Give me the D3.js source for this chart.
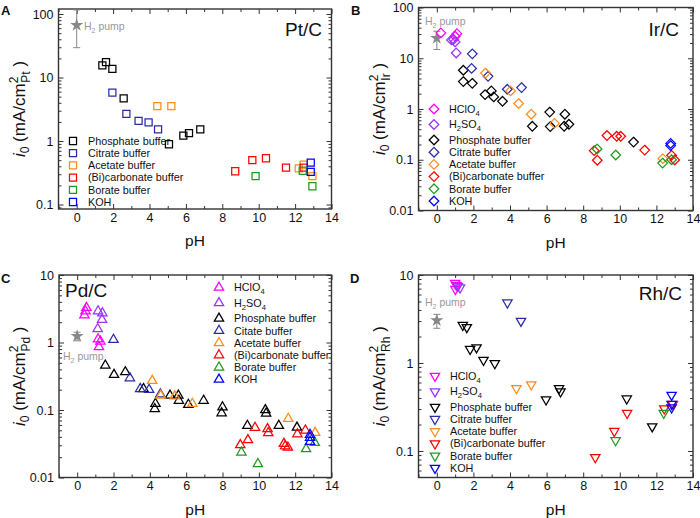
<!DOCTYPE html>
<html><head><meta charset="utf-8">
<script src="https://cdn.jsdelivr.net/npm/d3@7"></script>
<style>body{margin:0;background:#fff;}svg{display:block;font-family:"Liberation Sans",Arial,sans-serif;}</style>
</head><body><svg id="chart" width="700" height="518"></svg>
<script>
// ---------- data ----------
const xTicks = [0, 2, 4, 6, 8, 10, 12, 14];
const xTickLabels = ["0", "2", "4", "6", "8", "10", "12", "14"];
const xMinorTicks = [-1, 1, 3, 5, 7, 9, 11, 13];

const seriesKeys = ["HClO4", "H2SO4", "Phosphate", "Citrate", "Acetate", "Bicarbonate", "Borate", "KOH"];
const seriesColors = ["#ff00ff", "#9933ff", "#000000", "#2b2ba8", "#ff8c1a", "#ff0000", "#1e9a1e", "#0000ff"];

// Panel A: Pt/C  [pH, i0]
const ptPhosphate = [[1.41,15.5],[1.61,17.5],[1.96,13.7],[2.58,4.7],[5.07,0.89],[5.86,1.22],[6.17,1.33],[6.79,1.53]];
const ptCitrate = [[1.96,5.8],[2.73,2.68],[3.4,2.07],[3.95,1.96],[4.47,1.53]];
const ptAcetate = [[4.43,3.54],[5.2,3.54],[12.2,0.37],[12.47,0.425],[12.95,0.28]];
const ptBicarbonate = [[8.71,0.334],[9.65,0.5],[10.4,0.536],[11.5,0.382],[12.47,0.38]];
const ptBorate = [[9.83,0.28],[12.42,0.34],[12.95,0.194]];
const ptKOH = [[12.86,0.458],[12.86,0.326]];
const ptPump = [0, 67, 29.5, 116]; // pH, value, low, high
const ptYTicks = [0.1, 1, 10, 100];
const ptYTickLabels = ["0.1", "1", "10", "100"];

// Panel B: Ir/C
const irHClO4 = [[0.22,31.6],[1.0,27],[1.1,30.5]];
const irH2SO4 = [[0.8,23],[0.92,23.5],[1.0,21],[1.06,12.7]];
const irPhosphate = [[1.45,5.8],[1.45,3.47],[1.94,3.2],[2.64,1.92],[2.98,2.27],[3.11,1.73],[3.59,1.42],[5.22,0.456],[6.17,0.87],[6.2,0.45],[6.96,0.456],[7.0,0.79],[7.22,0.5],[10.75,0.223]];
const irCitrate = [[1.94,12.2],[1.9,6.3],[2.8,4.4],[3.85,2.45],[4.63,2.64]];
const irAcetate = [[2.66,5.1],[4.03,2.27],[4.47,1.28],[5.16,0.79],[6.43,0.52],[12.35,0.105]];
const irBicarbonate = [[8.6,0.151],[8.77,0.098],[9.3,0.3],[9.83,0.29],[10.05,0.29],[11.36,0.155],[12.83,0.122],[13.0,0.099]];
const irBorate = [[8.76,0.163],[9.78,0.124],[12.34,0.086],[12.83,0.1]];
const irKOH = [[12.78,0.21],[12.78,0.19]];
const irPump = [0, 25, 14.9, 34];
const irYTicks = [0.01, 0.1, 1, 10, 100];
const irYTickLabels = ["0.01", "0.1", "1", "10", "100"];

// Panel C: Pd/C
const pdHClO4 = [[0.51,3.27],[0.46,2.91],[0.4,2.54],[1.15,1.12],[1.28,1.04],[1.2,0.86]];
const pdH2SO4 = [[1.15,2.91],[1.39,2.72],[1.37,2.17],[1.13,1.59]];
const pdPhosphate = [[1.55,0.458],[2.03,0.333],[2.65,0.365],[3.65,0.206],[4.31,0.124],[4.27,0.104],[5.11,0.164],[5.57,0.164],[5.6,0.138],[6.12,0.12],[6.96,0.138],[8.0,0.11],[7.95,0.09],[9.37,0.0586],[10.36,0.1],[10.4,0.089],[11.1,0.0586],[12.1,0.055]];
const pdCitrate = [[2.0,1.1],[2.9,0.297],[3.47,0.206],[3.96,0.2],[4.58,0.172]];
const pdAcetate = [[4.13,0.271],[4.6,0.164],[5.37,0.16],[6.34,0.124],[11.62,0.0745],[13.1,0.046]];
const pdBicarbonate = [[8.98,0.0303],[9.4,0.0359],[9.79,0.0547],[10.48,0.0523],[10.52,0.0457],[11.38,0.0316],[11.45,0.0292],[11.6,0.0279],[12.12,0.044],[12.56,0.05]];
const pdBorate = [[9.04,0.0236],[9.95,0.0159],[12.6,0.0264],[13.08,0.0327]];
const pdKOH = [[12.82,0.043],[12.82,0.039],[12.82,0.034]];
const pdPump = [0, 1.24, 1.06, 1.42];
const pdYTicks = [0.01, 0.1, 1, 10];
const pdYTickLabels = ["0.01", "0.1", "1", "10"];

// Panel D: Rh/C
const rhHClO4 = [[1.0,8.1],[1.07,7.7],[1.02,6.9]];
const rhH2SO4 = [[1.27,7.2],[1.15,7.5]];
const rhPhosphate = [[1.42,2.7],[1.64,2.55],[1.82,1.44],[2.17,1.5],[2.55,1.08],[3.17,0.99],[5.97,0.384],[6.68,0.515],[6.76,0.473],[10.38,0.393],[11.77,0.19]];
const rhCitrate = [[3.86,4.85],[4.6,3.0]];
const rhAcetate = [[4.35,0.515],[5.16,0.568]];
const rhBicarbonate = [[8.66,0.0848],[9.7,0.168],[10.4,0.27],[12.43,0.303],[12.9,0.342]];
const rhBorate = [[9.77,0.132],[12.4,0.27]];
const rhKOH = [[12.83,0.433],[12.83,0.342],[12.83,0.311]];
const rhPump = [0, 3.05, 2.48, 3.57];
const rhYTicks = [0.1, 1, 10];
const rhYTickLabels = ["0.1", "1", "10"];

const legendAB = ["HClO4", "H2SO4", "Phosphate buffer", "Citrate buffer", "Acetate buffer", "(Bi)carbonate buffer", "Borate buffer", "KOH"];
const legendC = ["HClO4", "H2SO4", "Phosphate buffer", "Citate buffer", "Acetate buffer", "(Bi)carbonate buffer", "Borate buffer", "KOH"];

// ---------- drawing ----------
const svg = d3.select("#chart");
const FRAME = "#333";

function symbolPath(type) {
  if (type === "square") return d3.symbol(d3.symbolSquare, 50)();
  if (type === "diamond") { const r = 4.8; return `M0,${-r}L${r},0L0,${r}L${-r},0Z`; }
  return d3.symbol(d3.symbolTriangle, 38)();
}

function addRich(sel, label, fs) {
  const parts = label === "HClO4" ? [["HClO",0],["4",1]] :
                label === "H2SO4" ? [["H",0],["2",1],["SO",0],["4",1]] : [[label,0]];
  let sub = 0;
  parts.forEach(([t, s]) => {
    const ts = sel.append("tspan").text(t);
    if (s && !sub) { ts.attr("dy", 3).attr("font-size", fs * 0.7); sub = 1; }
    else if (!s && sub) { ts.attr("dy", -3); sub = 0; }
  });
}

function drawPanel(p) {
  const g = svg.append("g");
  const [x0, y0, x1, y1] = p.box;
  const x = d3.scaleLinear().domain([-1, 14]).range([x0, x1]);
  const y = d3.scaleLog().domain(p.yDomain).range([y1, y0]);

  const yMinor = [];
  for (let e = -3; e <= 3; e++) for (let k = 2; k <= 9; k++) {
    const v = k * Math.pow(10, e);
    if (v > p.yDomain[0] * 1.0001 && v < p.yDomain[1] * 0.9999) yMinor.push(v);
  }

  const axes = [
    [d3.axisBottom(x).tickValues(xTicks).tickFormat((d, i) => xTickLabels[i]).tickSizeInner(-5).tickSizeOuter(0).tickPadding(4), `translate(0,${y1})`],
    [d3.axisBottom(x).tickValues(xMinorTicks).tickFormat("").tickSizeInner(-3).tickSizeOuter(0), `translate(0,${y1})`],
    [d3.axisTop(x).tickValues(xTicks).tickFormat("").tickSizeInner(-5).tickSizeOuter(0), `translate(0,${y0})`],
    [d3.axisTop(x).tickValues(xMinorTicks).tickFormat("").tickSizeInner(-3).tickSizeOuter(0), `translate(0,${y0})`],
    [d3.axisLeft(y).tickValues(p.yTicks).tickFormat((d, i) => p.yTickLabels[i]).tickSizeInner(-5).tickSizeOuter(0).tickPadding(5), `translate(${x0},0)`],
    [d3.axisLeft(y).tickValues(yMinor).tickFormat("").tickSizeInner(-3).tickSizeOuter(0), `translate(${x0},0)`],
    [d3.axisRight(y).tickValues(p.yTicks).tickFormat("").tickSizeInner(-5).tickSizeOuter(0), `translate(${x1},0)`],
    [d3.axisRight(y).tickValues(yMinor).tickFormat("").tickSizeInner(-3).tickSizeOuter(0), `translate(${x1},0)`]
  ];
  axes.forEach(([ax, tr]) => {
    const a = g.append("g").attr("transform", tr).call(ax);
    a.select(".domain").remove();
    a.selectAll("line").attr("stroke", FRAME).attr("stroke-width", 1);
    a.selectAll("text").attr("font-size", 12.5).attr("fill", "#111").attr("font-family", "Liberation Sans, Arial, sans-serif");
  });
  g.append("rect").attr("x", x0).attr("y", y0).attr("width", x1 - x0).attr("height", y1 - y0)
    .attr("fill", "none").attr("stroke", FRAME).attr("stroke-width", 1.4);

  g.append("text").attr("x", (x0 + x1) / 2).attr("y", y1 + 37).attr("text-anchor", "middle")
    .attr("font-size", 15.5).attr("fill", "#111").text("pH");
  const yl = g.append("text").attr("transform", `translate(${x0 - 34},${(y0 + y1) / 2}) rotate(-90)`)
    .attr("text-anchor", "middle").attr("font-size", 17).attr("fill", "#111");
  yl.append("tspan").attr("font-style", "italic").text("i");
  yl.append("tspan").attr("font-size", 12).attr("dy", 4).text("0");
  yl.append("tspan").attr("dy", -4).text(" (mA/cm");
  yl.append("tspan").attr("font-size", 12).attr("dy", -7).text("2");
  yl.append("tspan").attr("font-size", 12).attr("dx", -6).attr("dy", 12).text(p.metal);
  yl.append("tspan").attr("dy", -5).text(" )");

  g.append("text").attr("x", p.letterPos[0]).attr("y", p.letterPos[1]).attr("font-size", 13)
    .attr("font-weight", "bold").attr("fill", "#111").text(p.letter);
  g.append("text").attr("x", p.titlePos[0]).attr("y", p.titlePos[1]).attr("text-anchor", p.titleAnchor)
    .attr("font-size", 19).attr("fill", "#111").text(p.title);

  const [pp, pv, plo, phi] = p.pump;
  const yhi = Math.max(y(phi), y0);
  const px = x(pp);
  g.append("line").attr("x1", px).attr("x2", px).attr("y1", y(plo)).attr("y2", yhi).attr("stroke", "#888").attr("stroke-width", 1);
  g.append("line").attr("x1", px - 3.5).attr("x2", px + 3.5).attr("y1", y(plo)).attr("y2", y(plo)).attr("stroke", "#888");
  g.append("line").attr("x1", px - 3.5).attr("x2", px + 3.5).attr("y1", yhi).attr("y2", yhi).attr("stroke", "#888");
  g.append("path").attr("d", d3.symbol(d3.symbolStar, 55)()).attr("transform", `translate(${px},${y(pv)})`).attr("fill", "#888");
  const pt = g.append("text").attr("x", p.pumpText[0]).attr("y", p.pumpText[1]).attr("font-size", 10.5).attr("fill", "#999");
  pt.append("tspan").text("H");
  pt.append("tspan").attr("font-size", 7).attr("dy", 3).text("2");
  pt.append("tspan").attr("dy", -3).text(" pump");

  const path = symbolPath(p.symbol);
  const rot = p.symbol === "down" ? " rotate(180)" : "";
  p.series.forEach(([key, data]) => {
    const col = seriesColors[seriesKeys.indexOf(key)];
    g.append("g").selectAll("path").data(data).join("path")
      .attr("d", path).attr("transform", d => `translate(${x(d[0])},${y(d[1])})${rot}`)
      .attr("fill", "none").attr("stroke", col).attr("stroke-width", 1.25);
  });

  let ly = p.legend.y;
  p.legend.keys.forEach((key, i) => {
    const label = p.legend.labels[i];
    const col = seriesColors[seriesKeys.indexOf(key)];
    g.append("path").attr("d", path).attr("transform", `translate(${p.legend.x},${ly})${rot}`)
      .attr("fill", "none").attr("stroke", col).attr("stroke-width", 1.25);
    const t = g.append("text").attr("x", p.legend.x + 15).attr("y", ly + 3.8).attr("font-size", 10.8).attr("fill", "#111");
    addRich(t, label, 10.8);
    ly += (label === "HClO4" || label === "H2SO4") ? 15.5 : 12.2;
  });
}

const panels = [
  { box: [58.5, 9, 331.5, 209], yDomain: [0.085, 120], yTicks: ptYTicks, yTickLabels: ptYTickLabels,
    metal: "Pt", letter: "A", letterPos: [1, 15], title: "Pt/C", titlePos: [322, 36], titleAnchor: "end",
    pump: ptPump, pumpText: [84, 30], symbol: "square",
    series: [["Phosphate", ptPhosphate], ["Citrate", ptCitrate], ["Acetate", ptAcetate], ["Bicarbonate", ptBicarbonate], ["Borate", ptBorate], ["KOH", ptKOH]],
    legend: { x: 73, y: 141, keys: seriesKeys.slice(2), labels: legendAB.slice(2) } },
  { box: [418.5, 7.5, 693, 210.5], yDomain: [0.01, 100], yTicks: irYTicks, yTickLabels: irYTickLabels,
    metal: "Ir", letter: "B", letterPos: [351, 15], title: "Ir/C", titlePos: [679, 36], titleAnchor: "end",
    pump: irPump, pumpText: [425, 25], symbol: "diamond",
    series: [["HClO4", irHClO4], ["H2SO4", irH2SO4], ["Phosphate", irPhosphate], ["Citrate", irCitrate], ["Acetate", irAcetate], ["Bicarbonate", irBicarbonate], ["Borate", irBorate], ["KOH", irKOH]],
    legend: { x: 434, y: 109, keys: seriesKeys, labels: legendAB } },
  { box: [59, 275, 331.5, 477.5], yDomain: [0.01, 10], yTicks: pdYTicks, yTickLabels: pdYTickLabels,
    metal: "Pd", letter: "C", letterPos: [1, 283], title: "Pd/C", titlePos: [65, 297], titleAnchor: "start",
    pump: pdPump, pumpText: [63, 360], symbol: "up",
    series: [["HClO4", pdHClO4], ["H2SO4", pdH2SO4], ["Phosphate", pdPhosphate], ["Citrate", pdCitrate], ["Acetate", pdAcetate], ["Bicarbonate", pdBicarbonate], ["Borate", pdBorate], ["KOH", pdKOH]],
    legend: { x: 219, y: 287.5, keys: seriesKeys, labels: legendC } },
  { box: [418.5, 275, 693, 477.5], yDomain: [0.05, 10], yTicks: rhYTicks, yTickLabels: rhYTickLabels,
    metal: "Rh", letter: "D", letterPos: [350, 283], title: "Rh/C", titlePos: [682, 300], titleAnchor: "end",
    pump: rhPump, pumpText: [425, 306], symbol: "down",
    series: [["HClO4", rhHClO4], ["H2SO4", rhH2SO4], ["Phosphate", rhPhosphate], ["Citrate", rhCitrate], ["Acetate", rhAcetate], ["Bicarbonate", rhBicarbonate], ["Borate", rhBorate], ["KOH", rhKOH]],
    legend: { x: 435, y: 376, keys: seriesKeys, labels: legendAB } }
];
panels.forEach(drawPanel);
</script></body></html>
